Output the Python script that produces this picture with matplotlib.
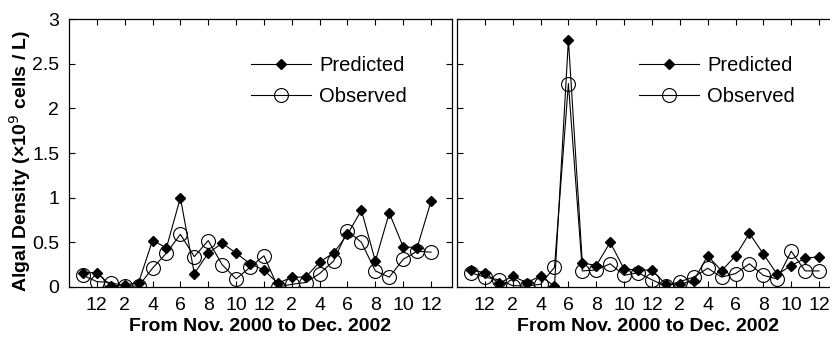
import matplotlib
matplotlib.use("Agg")
import matplotlib.pyplot as plt

# months 1..26 = Nov 2000 .. Dec 2002
months = list(range(1, 27))
tick_pos = [2, 4, 6, 8, 10, 12, 14, 16, 18, 20, 22, 24, 26]
tick_labels = ["12", "2", "4", "6", "8", "10", "12", "2", "4", "6", "8", "10", "12"]

pred_left = [0.16, 0.16, 0.015, 0.02, 0.05, 0.52, 0.44, 1.0, 0.15, 0.38, 0.49, 0.38, 0.26,
             0.19, 0.04, 0.11, 0.11, 0.28, 0.38, 0.59, 0.86, 0.29, 0.83, 0.45, 0.44, 0.96]
obs_left = [0.13, 0.06, 0.05, 0.01, 0.01, 0.21, 0.38, 0.59, 0.34, 0.52, 0.25, 0.09, 0.22,
            0.35, 0.0, 0.03, 0.05, 0.15, 0.29, 0.63, 0.50, 0.18, 0.11, 0.31, 0.40, 0.39]

pred_right = [0.19, 0.16, 0.04, 0.12, 0.05, 0.12, 0.01, 2.77, 0.27, 0.24, 0.50, 0.20, 0.19,
              0.19, 0.03, 0.03, 0.07, 0.35, 0.18, 0.35, 0.60, 0.37, 0.14, 0.24, 0.32, 0.34]
obs_right = [0.16, 0.11, 0.08, 0.015, 0.01, 0.03, 0.22, 2.28, 0.18, 0.19, 0.26, 0.13, 0.16,
             0.08, 0.01, 0.06, 0.11, 0.21, 0.11, 0.15, 0.26, 0.13, 0.09, 0.40, 0.18, 0.18]

y_ticks = [0, 0.5, 1, 1.5, 2, 2.5, 3]
y_tick_labels = ["0", "0.5", "1", "1.5", "2", "2.5", "3"]

plt.rcParams["font.family"] = ["Liberation Sans", "DejaVu Sans"]

fig = plt.figure(figsize=(8.3, 3.38), dpi=100)
ax1 = fig.add_axes([0.0831, 0.151, 0.4614, 0.792])
# right panel runs past the figure edge, as in the cropped original
ax2 = fig.add_axes([0.5506, 0.151, 0.4614, 0.792])

for ax, pred, obs in [(ax1, pred_left, obs_left), (ax2, pred_right, obs_right)]:
    ax.plot(months, pred, "-", color="black", lw=0.8, marker="D", ms=5.5,
            mfc="black", mec="black", label="Predicted")
    ax.plot(months, obs, "-", color="black", lw=0.8, marker="o", ms=10,
            mfc="none", mec="black", mew=0.8, label="Observed")
    ax.set_xlim(0, 27.5)
    ax.set_ylim(0, 3)
    ax.set_xticks(tick_pos)
    ax.set_xticklabels(tick_labels)
    ax.set_yticks(y_ticks)
    ax.tick_params(direction="in", top=True, right=True, length=4, width=0.8,
                   labelsize=14, pad=7)
    for s in ax.spines.values():
        s.set_linewidth(0.9)
    ax.set_xlabel("From Nov. 2000 to Dec. 2002", fontsize=14, fontweight="bold", labelpad=3)
    ax.legend(loc="upper right", bbox_to_anchor=(0.93, 0.93), frameon=False,
              fontsize=14.5, handlelength=3.0, handletextpad=0.4, labelspacing=0.6)

ax1.set_yticklabels(y_tick_labels)
ax2.set_yticklabels([])
ax1.set_ylabel("Algal Density (\u00d710$^9$ cells / L)", fontsize=14, fontweight="bold")
ax1.yaxis.set_label_coords(-0.094, 0.47)

fig.savefig("out.png", dpi=100)
